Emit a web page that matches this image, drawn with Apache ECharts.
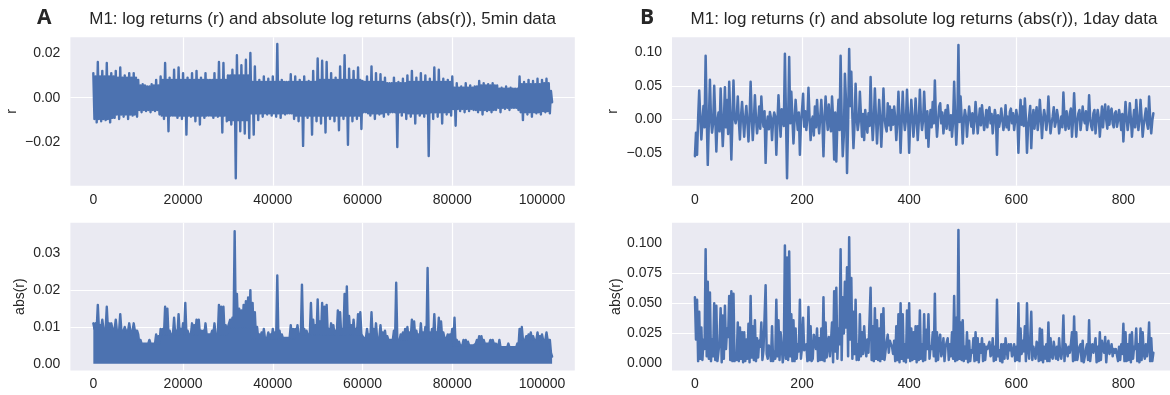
<!DOCTYPE html>
<html><head><meta charset="utf-8">
<script src="https://cdn.jsdelivr.net/npm/echarts@6/dist/echarts.min.js"></script>
<style>html,body{margin:0;padding:0;background:#fff;}#c{width:1170px;height:395px;}</style>
</head><body><div id="c"></div>
<script>
// ---------- DATA ----------
const aBinWidth = 1000;
const aHigh = [0.011,0.016,0.012,0.0155,0.011,0.012,0.0135,0.010,0.011,0.011,
0.008,0.006,0.005,0.006,0.008,0.0095,0.0155,0.009,0.0125,0.0135,
0.011,0.009,0.011,0.012,0.009,0.011,0.008,0.011,0.016,0.0155,
0.010,0.0125,0.019,0.0145,0.017,0.020,0.014,0.008,0.0095,0.0085,
0.0095,0.024,0.008,0.007,0.0105,0.0095,0.008,0.0095,0.0075,0.012,
0.0175,0.0165,0.016,0.011,0.009,0.014,0.019,0.013,0.012,0.0135,
0.0075,0.0095,0.014,0.011,0.0105,0.009,0.0065,0.009,0.007,0.0085,
0.010,0.012,0.009,0.011,0.010,0.0085,0.0135,0.0125,0.0085,0.008,
0.0095,0.0065,0.005,0.0065,0.0055,0.005,0.0075,0.0065,0.006,0.0065,
0.0055,0.0045,0.005,0.0045,0.004,0.0095,0.007,0.008,0.0075,0.0085,
0.008,0.0085,0.003];
const aLow = [-0.011,-0.0105,-0.010,-0.011,-0.009,-0.0095,-0.0085,-0.0095,-0.008,-0.0085,
-0.0065,-0.006,-0.0065,-0.006,-0.0075,-0.0095,-0.015,-0.008,-0.009,-0.0095,
-0.0165,-0.0085,-0.0105,-0.012,-0.009,-0.008,-0.009,-0.0085,-0.0155,-0.0105,
-0.012,-0.036,-0.015,-0.016,-0.018,-0.0165,-0.010,-0.0085,-0.0075,-0.008,
-0.0085,-0.009,-0.0075,-0.007,-0.0095,-0.0105,-0.0215,-0.009,-0.0165,-0.0105,
-0.0115,-0.0155,-0.0095,-0.0105,-0.0145,-0.0095,-0.021,-0.0105,-0.0095,-0.014,
-0.0065,-0.008,-0.0095,-0.0075,-0.0085,-0.0075,-0.0065,-0.022,-0.008,-0.0095,
-0.0085,-0.0115,-0.008,-0.0085,-0.026,-0.0095,-0.0085,-0.0115,-0.0075,-0.008,
-0.0125,-0.006,-0.0065,-0.006,-0.0055,-0.0065,-0.0075,-0.006,-0.0065,-0.0055,
-0.0065,-0.005,-0.0055,-0.0045,-0.0055,-0.010,-0.0075,-0.0085,-0.007,-0.0075,
-0.0065,-0.007,-0.002];
const aCoreWidth = 5000;
const aCoreHigh = [0.0095,0.009,0.0055,0.008,0.008,0.008,0.010,0.007,0.007,0.007,0.008,
0.008,0.007,0.0065,0.007,0.007,0.0045,0.0055,0.004,0.006,0.0065];
const aCoreLow = [-0.0095,-0.0075,-0.0055,-0.008,-0.008,-0.008,-0.010,-0.007,-0.007,-0.008,-0.008,
-0.008,-0.007,-0.0065,-0.007,-0.0065,-0.005,-0.0055,-0.0045,-0.0065,-0.006];

// Panel B (1day data): r on days 0,4,8,... and on the days in between (2,6,10,...)
const bStep = 4;
const bReturns = [-0.055,-0.053,0.043,-0.030,0.020,0.095,-0.068,0.059,-0.020,0.050,
-0.048,0.010,0.046,-0.040,0.048,0.029,0.056,-0.060,0.058,-0.006,
0.034,-0.030,0.026,-0.026,0.020,-0.033,0.056,-0.031,0.036,-0.021,
0.019,0.034,-0.011,-0.065,0.004,0.011,-0.031,0.010,-0.053,0.036,
-0.026,0.001,0.098,-0.088,0.093,0.041,-0.036,0.029,-0.016,-0.053,
0.014,-0.011,-0.016,0.047,-0.031,0.004,0.019,0.029,-0.021,0.029,
-0.055,0.034,-0.016,-0.006,0.034,-0.060,-0.063,0.029,0.095,-0.055,
0.068,-0.080,0.105,0.071,-0.043,0.053,-0.016,0.041,-0.026,-0.031,
-0.006,0.009,0.063,-0.031,0.046,-0.036,0.029,-0.041,0.046,-0.011,
0.024,0.019,0.014,0.019,-0.031,0.041,-0.050,0.041,-0.016,0.044,
-0.050,0.029,-0.026,0.031,-0.031,0.044,-0.016,0.041,-0.028,-0.041,
0.014,0.026,0.058,-0.026,0.019,-0.006,-0.021,0.014,0.021,-0.016,
-0.026,0.056,-0.038,0.111,0.034,-0.036,0.014,-0.026,0.019,-0.011,
-0.021,0.026,-0.021,0.016,0.021,-0.016,0.014,0.011,-0.006,-0.021,
0.014,-0.053,-0.011,0.016,-0.016,0.021,0.004,0.011,-0.006,-0.016,
0.014,-0.050,0.029,0.019,0.031,-0.050,0.004,-0.043,0.014,0.004,
-0.016,0.029,-0.028,0.014,-0.016,0.034,-0.021,0.004,-0.011,0.014,
-0.021,0.004,0.040,-0.016,-0.006,0.009,-0.026,0.039,-0.026,0.009,
-0.016,0.019,-0.006,-0.016,0.036,-0.011,0.009,-0.021,0.014,-0.026,
0.019,0.009,-0.001,0.019,0.011,-0.006,0.009,-0.011,0.014,-0.016,
-0.033,0.026,-0.016,0.024,-0.026,0.014,0.029,-0.016,0.029,-0.026,
0.004,-0.006,0.034,-0.021,0.009];
const bReturnsBetween = [-0.020,0.002,0.004,-0.003,-0.012,0.006,-0.004,0.002,-0.006,0.003,
-0.002,-0.018,0.001,-0.004,-0.012,-0.022,0.003,-0.002,0.002,0.003,
-0.002,0.004,-0.001,0.002,-0.004,0.001,0.005,-0.003,0.002,-0.005,
-0.014,0.003,0.012,-0.008,-0.015,0.002,-0.002,0.004,-0.006,0.003,
0.015,-0.010,0.004,-0.003,-0.006,0.002,-0.002,0.004,0.010,-0.004,
0.038,0.012,0.002,0.003,-0.002,-0.024,-0.012,-0.002,0.003,-0.003,
0.002,0.005,0.022,-0.018,0.001,0.010,-0.004,-0.016,0.003,-0.025,
0.030,-0.006,0.020,0.004,-0.008,0.003,-0.003,0.006,0.008,0.014,
-0.020,-0.010,0.003,-0.002,0.004,-0.003,0.002,-0.004,0.003,-0.018,
-0.009,-0.016,-0.008,0.002,-0.003,0.001,-0.004,0.002,-0.001,0.005,
-0.002,0.003,-0.004,0.001,-0.003,0.004,-0.002,0.003,0.012,-0.004,
-0.012,-0.006,0.002,-0.003,0.024,0.010,-0.002,-0.014,0.003,0.006,
-0.004,0.002,-0.003,-0.004,0.003,-0.002,0.004,-0.001,0.002,0.009,
-0.002,0.003,-0.001,-0.009,0.002,-0.003,-0.012,0.018,0.008,-0.002,
0.003,0.006,-0.002,0.001,-0.004,-0.012,-0.016,0.016,0.009,-0.002,
0.003,-0.002,-0.008,-0.010,0.002,-0.012,0.020,-0.003,-0.014,0.018,
-0.002,0.003,-0.001,0.004,-0.002,0.002,-0.006,0.018,-0.004,0.003,
-0.008,-0.012,0.002,0.012,-0.014,0.016,-0.002,0.003,-0.003,0.014,
-0.002,0.001,0.012,-0.003,0.002,-0.016,0.014,-0.001,0.002,-0.003,
-0.012,0.022,-0.014,-0.008,0.016,-0.012,0.012,-0.002,0.003,0.008,
-0.002,0.002,-0.003,0.001,-0.004,-0.012,0.002,-0.001,0.003,-0.008,
0.016,-0.014,0.002,-0.002];

// Tick labels
const aXTicks = [0,20000,40000,60000,80000,100000];
const bXTicks = [0,200,400,600,800];
const aTopYTicks = [-0.02,0,0.02];
const aBotYTicks = [0,0.01,0.02,0.03];
const bTopYTicks = [-0.05,0,0.05,0.1];
const bBotYTicks = [0,0.025,0.05,0.075,0.1];

const titleA = 'M1: log returns (r) and absolute log returns (abs(r)), 5min data';
const titleB = 'M1: log returns (r) and absolute log returns (abs(r)), 1day data';

// ---------- BUILD ----------
const aTop = [], aAbs = [];
aHigh.forEach((h, k) => {
  const x = k * aBinWidth, lo = aLow[k];
  const c = Math.floor(x / aCoreWidth);
  const ch = Math.min(aCoreHigh[c], h), cl = Math.max(aCoreLow[c], lo);
  const q = aBinWidth / 4;
  if (k < aHigh.length - 1) {
    aTop.push([x, h], [x + q, cl], [x + 2 * q, ch], [x + 3 * q, lo]);
    const ca = Math.max(ch, -cl);
    aAbs.push([x, Math.abs(h)], [x + q, ca], [x + 2 * q, Math.abs(lo)], [x + 3 * q, ca]);
  } else {
    aTop.push([x, h], [x + q, lo]);
    aAbs.push([x, Math.abs(h)], [x + q, Math.abs(lo)]);
  }
});
const bTop = [], bAbs = [];
bReturns.forEach((v, i) => {
  bTop.push([i * bStep, v]); bAbs.push([i * bStep, Math.abs(v)]);
  if (i < bReturnsBetween.length) {
    const m = bReturnsBetween[i];
    bTop.push([i * bStep + bStep / 2, m]); bAbs.push([i * bStep + bStep / 2, Math.abs(m)]);
  }
});

const FONT = '"Liberation Sans", Arial, sans-serif';
const TXT = '#262626';
const LINE = '#4C72B0';
const fmt = d => v => (v < 0 ? '\u2212' : '') + Math.abs(v).toFixed(d);

function xAxis(gi, min, max, ticks) {
  return {type:'value', gridIndex:gi, min, max,
    axisLine:{show:false}, axisTick:{show:false, customValues:ticks},
    axisLabel:{customValues:ticks, color:TXT, fontSize:14, fontFamily:FONT, margin:7, formatter:v=>String(v)},
    splitLine:{show:true, showMinLine:false, showMaxLine:false, lineStyle:{color:'#ffffff', width:1.2}}};
}
function yAxis(gi, min, max, ticks, d, name, gap) {
  return {type:'value', gridIndex:gi, min, max, name, nameLocation:'middle', nameRotate:90, nameGap:gap,
    nameTextStyle:{color:TXT, fontSize:14, fontFamily:FONT},
    axisLine:{show:false}, axisTick:{show:false, customValues:ticks},
    axisLabel:{customValues:ticks, color:TXT, fontSize:14, fontFamily:FONT, margin:10, formatter:fmt(d)},
    splitLine:{show:true, showMinLine:false, showMaxLine:false, lineStyle:{color:'#ffffff', width:1.2}}};
}
function grid(left, top, width, height) {
  return {left, top, width, height, show:true, backgroundColor:'#EAEAF2', borderWidth:0, containLabel:false, outerBoundsMode:'none'};
}
function line(i, data, area, w) {
  const s = {type:'line', xAxisIndex:i, yAxisIndex:i, data, symbol:'none', showSymbol:false,
    lineStyle:{color:LINE, width:w, join:'round', cap:'round'}, itemStyle:{color:LINE},
    emphasis:{disabled:true}, silent:true, animation:false, clip:true};
  if (area) s.areaStyle = {color:LINE, opacity:1};
  return s;
}
function txt(x, y, text, font, align) {
  return {type:'text', x, y, silent:true,
    style:{text, font, fill:TXT, textAlign:align, align:align, textVerticalAlign:'middle', verticalAlign:'middle'}};
}

const chart = echarts.init(document.getElementById('c'), null, {renderer:'canvas'});
chart.setOption({
  animation:false,
  backgroundColor:'#ffffff',
  grid:[grid(70.4,37.3,504.4,148.4), grid(70.4,222.7,504.4,147.8), grid(672,37.3,504.3,148.4), grid(672,222.7,504.3,147.8)],
  xAxis:[xAxis(0,-5110,107310,aXTicks), xAxis(1,-5110,107310,aXTicks), xAxis(2,-42.8,898.8,bXTicks), xAxis(3,-42.8,898.8,bXTicks)],
  yAxis:[yAxis(0,-0.0393,0.0270,aTopYTicks,2,'r',51), yAxis(1,-0.0018,0.0383,aBotYTicks,2,'abs(r)',43),
         yAxis(2,-0.0991,0.1224,bTopYTicks,2,'r',52), yAxis(3,-0.0058,0.1170,bBotYTicks,3,'abs(r)',47)],
  series:[line(0,aTop,false,2.4), line(1,aAbs,true,2.4), line(2,bTop,false,2.5), line(3,bAbs,false,2.5)],
  graphic:{elements:[
    txt(37,18,'A','bold 21px "Open Sans", "Liberation Sans", sans-serif','left'),
    txt(640,18,'B','bold 21px "Open Sans", "Liberation Sans", sans-serif','left'),
    txt(322.6,19,titleA,'17px ' + FONT,'center'),
    txt(924,19,titleB,'17px ' + FONT,'center')
  ]}
});
</script></body></html>
